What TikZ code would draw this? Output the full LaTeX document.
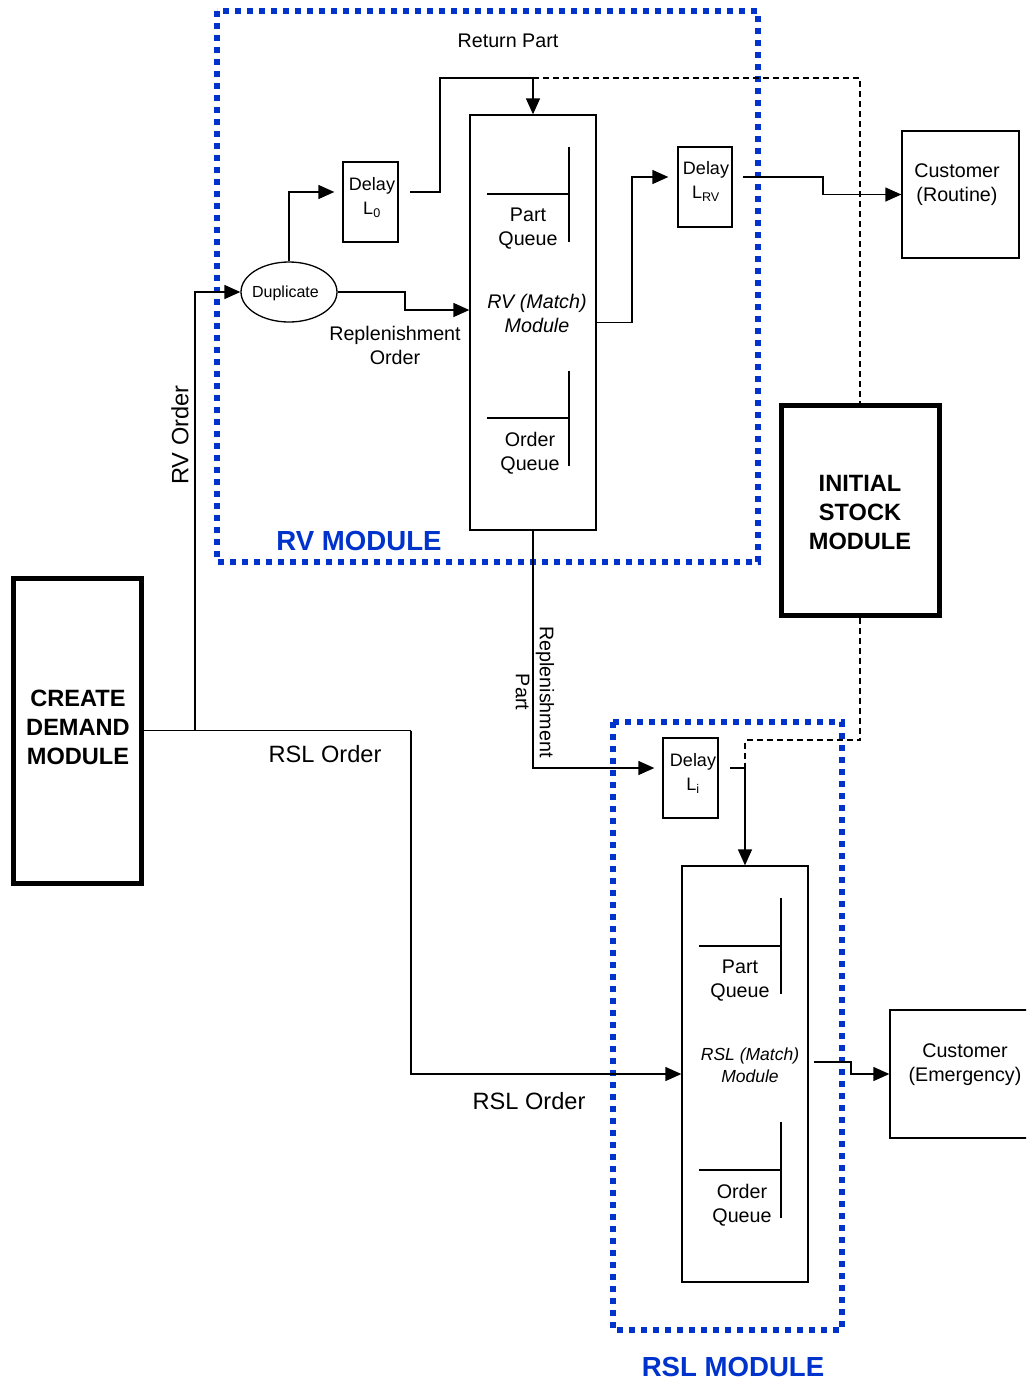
\documentclass[tikz,border=0pt]{standalone}
\usepackage{fontspec}
\setmainfont{Liberation Sans}
\usetikzlibrary{arrows.meta,shapes.geometric}
\definecolor{modblue}{RGB}{0,51,204}
\begin{document}
\begin{tikzpicture}[x=1pt,y=-1pt,
  thinline/.style={line width=1.3pt},
  arr/.style={thinline,-{Triangle[length=16pt,width=14pt]}},
  dashline/.style={line width=1.1pt,dash pattern=on 6pt off 4pt},
  modbox/.style={draw=modblue,line width=5.5pt,dash pattern=on 6pt off 6pt},
  box/.style={draw,thinline,inner sep=0pt},
  thickbox/.style={draw,line width=5pt,inner sep=0pt},
  lbl/.style={align=center,inner sep=0pt,yshift=-3pt,font=\fontsize{19.7}{24}\selectfont},
  rlbl/.style={align=center,inner sep=0pt,font=\fontsize{19.7}{24}\selectfont},
  dlbl/.style={align=center,inner sep=0pt,yshift=-2.5pt,font=\fontsize{18}{24}\selectfont},
  biglbl/.style={align=center,inner sep=0pt,yshift=-1pt,font=\fontsize{23.6}{28}\selectfont},
  rbiglbl/.style={align=center,inner sep=0pt,font=\fontsize{23.6}{28}\selectfont},
  modlbl/.style={align=center,inner sep=0pt,font=\bfseries\fontsize{23.6}{29}\selectfont},
  bluelbl/.style={inner sep=0pt,text=modblue,font=\bfseries\fontsize{27.6}{32}\selectfont},
  queue/.style={thinline}
]
\useasboundingbox (0,0) rectangle (1026,1382);
\clip (0,0) rectangle (1026,1382);

% module frames
\draw[modbox] (217,11) rectangle (758,562);
\draw[modbox] (613,722) rectangle (842,1330);
\node[bluelbl] (rvmodlbl) at (359,541) {RV MODULE};
\node[bluelbl] (rslmodlbl) at (733,1367) {RSL MODULE};

% main boxes
\node[box,minimum width=126,minimum height=415] (rv) at (533,322.5) {};
\node[box,minimum width=126,minimum height=416] (rsl) at (745,1074) {};
\node[thickbox,minimum width=128,minimum height=305] (cdm) at (77,730.5) {};
\node[modlbl] (cdmt) at (78,727) {CREATE\\DEMAND\\MODULE};
\node[thickbox,minimum width=158,minimum height=210] (ism) at (860,510) {};
\node[modlbl] (ismt) at (860,512) {INITIAL\\STOCK\\MODULE};

% delays
\node[box,minimum width=55,minimum height=80] (dL0) at (370.5,202) {};
\node[dlbl] (dL0t) at (372,195) {Delay\\L\textsubscript{0}};
\node[box,minimum width=54,minimum height=80] (dLRV) at (705,187) {};
\node[dlbl] (dLRVt) at (706,179) {Delay\\L\textsubscript{RV}};
\node[box,minimum width=55,minimum height=80] (dLi) at (690.5,778) {};
\node[dlbl] (dLit) at (693,771) {Delay\\L\textsubscript{i}};

% customers
\node[box,minimum width=117,minimum height=127] (custR) at (960.5,194.5) {};
\node[lbl] (custRt) at (957,182) {Customer\\(Routine)};
\node[box,minimum width=144,minimum height=128] (custE) at (962,1074) {};
\node[lbl] (custEt) at (965,1062) {Customer\\(Emergency)};

% duplicate
\node[draw,thinline,ellipse,minimum width=96,minimum height=60,inner sep=0pt] (dup) at (289,292) {};
\node[inner sep=0pt,font=\fontsize{16}{18}\selectfont] (dupt) at (285.5,293.5) {Duplicate};

% queues inside RV
\draw[queue] (487,194) -- (569,194) (569,147) -- (569,242);
\draw[queue] (487,418) -- (569,418) (569,371) -- (569,466);
\node[lbl] (rvpq) at (528,226) {Part\\Queue};
\node[lbl,font=\itshape\fontsize{19.7}{24}\selectfont] (rvt) at (537,310) {RV (Match)\\Module};
\node[lbl] (rvoq) at (530,450) {Order\\Queue};

% queues inside RSL
\draw[queue] (699,946) -- (781,946) (781,898) -- (781,994);
\draw[queue] (699,1170) -- (781,1170) (781,1122) -- (781,1218);
\node[lbl] (rslpq) at (740,978) {Part\\Queue};
\node[lbl,font=\itshape\fontsize{17.5}{22}\selectfont] (rslt) at (750,1062) {RSL (Match)\\Module};
\node[lbl] (rsloq) at (742,1202) {Order\\Queue};

% free ends
\coordinate (l0out) at (410,192);
\coordinate (lrvout) at (743,177);
\coordinate (liout) at (730,768);
\coordinate (rslout) at (814,1062);
\coordinate (retjoin) at (533,78);
\coordinate (lijoin) at (745,768);

% connectors
\draw[arr] (cdm.east) -- (195,730.5) |- (dup.west);
\draw[thinline] (195,730.5) -- (411,730.5);
\draw[arr] (411,730.5) |- (rsl.west);
\draw[arr,shorten >=8pt] (dup.north) |- (dL0.west |- 0,192);
\draw[arr] (l0out) -- (440,192) |- (retjoin) -- (rv.north);
\draw[dashline] (retjoin) -- (860,78) -- (ism.north);
\draw[arr] (dup.east) -- (405,292) |- (rv.west |- 0,310);
\draw[arr,shorten >=9pt] (rv.east) -- (632,322.5) |- (dLRV.west |- 0,177);
\draw[arr] (lrvout) -- (823,177) |- (custR.west);
\draw[arr,shorten >=8pt] (rv.south) |- (dLi.west |- 0,768);
\draw[arr] (liout) -- (lijoin) -- (rsl.north);
\draw[dashline] (ism.south) -- (860,740) -- (745,740) -- (lijoin);
\draw[arr] (rslout) -- (851,1062) |- (custE.west);

% connector labels
\node[lbl] (retlbl) at (508,38) {Return Part};
\node[lbl] (replord) at (395,342) {Replenishment\\Order};
\node[rlbl,rotate=-90] (replpart) at (535,692) {Replenishment\\Part};
\node[rbiglbl,rotate=90] (rvord) at (180,435) {RV Order};
\node[biglbl] (rslord1) at (325,753) {RSL Order};
\node[biglbl] (rslord2) at (529,1100) {RSL Order};
\end{tikzpicture}
\end{document}
